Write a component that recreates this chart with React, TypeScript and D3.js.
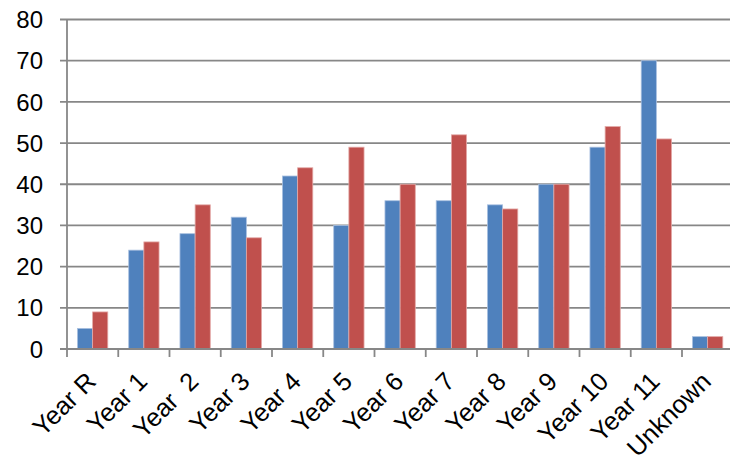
import * as d3 from 'd3';
import { useEffect, useRef } from 'react';

const categories = ['Year R', 'Year 1', 'Year  2', 'Year 3', 'Year 4', 'Year 5', 'Year 6', 'Year 7', 'Year 8', 'Year 9', 'Year 10', 'Year 11', 'Unknown'];
const seriesNames = ['A', 'B'];
const seriesA = [5, 24, 28, 32, 42, 30, 36, 36, 35, 40, 49, 70, 3];
const seriesB = [9, 26, 35, 27, 44, 49, 40, 52, 34, 40, 54, 51, 3];
const yTicks = [0, 10, 20, 30, 40, 50, 60, 70, 80];
const colors = ['#4f81bd', '#c0504d'];
const edges = ['#a9c0e0', '#e3a9a7'];

export default function App() {
  const ref = useRef<SVGSVGElement | null>(null);

  useEffect(() => {
    const svg = d3.select(ref.current);
    svg.selectAll('*').remove();
    const width = 730;
    const left = 67;
    const step = 51.25;
    const font = 'Liberation Sans, Arial, sans-serif';
    const grid = '#878787';

    const x = d3.scaleBand<string>().domain(categories).range([left, left + step * categories.length]).padding(0);
    const x1 = d3.scaleBand<string>().domain(seriesNames).range([0, x.bandwidth()]).paddingInner(0).paddingOuter(0.69);
    const y = d3.scaleLinear().domain([0, 80]).range([349, 19.5]);

    // gridlines + y ticks
    svg.append('g')
      .selectAll('line')
      .data(yTicks)
      .enter()
      .append('line')
      .attr('x1', left - 7)
      .attr('x2', width)
      .attr('y1', (d) => y(d))
      .attr('y2', (d) => y(d))
      .attr('stroke', grid)
      .attr('stroke-width', 1.8);

    svg.append('g')
      .selectAll('text')
      .data(yTicks)
      .enter()
      .append('text')
      .attr('x', 43)
      .attr('y', (d) => y(d))
      .attr('dy', '0.36em')
      .attr('text-anchor', 'end')
      .attr('font-family', font)
      .attr('font-size', 24)
      .attr('fill', '#000')
      .text((d) => d);

    // bars
    const rows = categories.map((c, i) => ({ c, vals: [seriesA[i], seriesB[i]] }));
    const groups = svg.append('g')
      .selectAll('g')
      .data(rows)
      .enter()
      .append('g')
      .attr('transform', (d) => `translate(${x(d.c)},0)`);
    groups.selectAll('rect')
      .data((d) => d.vals.map((v, j) => ({ v, s: seriesNames[j], j })))
      .enter()
      .append('rect')
      .attr('x', (d) => x1(d.s)!)
      .attr('y', (d) => y(d.v))
      .attr('width', x1.bandwidth())
      .attr('height', (d) => y(0) - y(d.v))
      .attr('fill', (d) => colors[d.j])
      .attr('stroke', (d) => edges[d.j])
      .attr('stroke-width', 0.8);

    // y axis line
    svg.append('line')
      .attr('x1', left).attr('x2', left)
      .attr('y1', y(80)).attr('y2', y(0))
      .attr('stroke', grid).attr('stroke-width', 1.8);

    // x axis line + ticks
    svg.append('line')
      .attr('x1', left - 7).attr('x2', width)
      .attr('y1', y(0)).attr('y2', y(0))
      .attr('stroke', grid).attr('stroke-width', 1.8);
    const bounds = categories.map((c) => x(c)!).concat([x(categories[categories.length - 1])! + x.bandwidth()]);
    svg.append('g')
      .selectAll('line')
      .data(bounds)
      .enter()
      .append('line')
      .attr('x1', (d) => d).attr('x2', (d) => d)
      .attr('y1', y(0)).attr('y2', y(0) + 8)
      .attr('stroke', grid).attr('stroke-width', 1.8);

    // x labels, rotated; "Unknown" runs to the bottom edge as in the original
    svg.append('g')
      .selectAll('text')
      .data(categories)
      .enter()
      .append('text')
      .attr('transform', (d) => `translate(${x(d)! + x.bandwidth() / 2 + 5},383) rotate(-45)`)
      .attr('text-anchor', 'end')
      .attr('font-family', font)
      .attr('font-size', 25.5)
      .attr('fill', '#000')
      .style('white-space', 'pre')
      .text((d) => d);
  }, []);

  return (
    <svg
      ref={ref}
      width={730}
      height={457}
      style={{ position: 'absolute', left: 0, top: 0, background: '#fff' }}
    />
  );
}
